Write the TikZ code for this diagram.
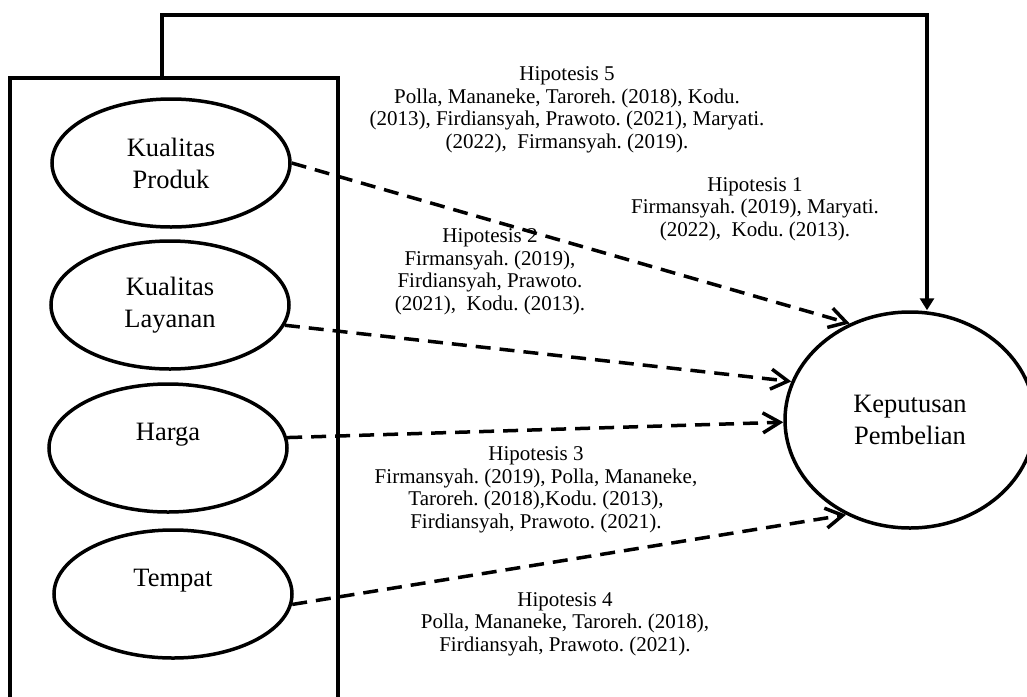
\documentclass[tikz,border=0pt]{standalone}
\usepackage{fontspec}
\setmainfont{Liberation Serif}
\usetikzlibrary{arrows.meta, shapes.geometric, positioning}
\frenchspacing

\begin{document}
\begin{tikzpicture}[x=1pt, y=-1pt, line width=3.5pt,
  var/.style={ellipse, draw, minimum width=238pt, minimum height=128pt,
    inner sep=0pt, align=center, font=\fontsize{26.5}{32}\selectfont},
  hyp/.style={align=center, inner sep=0pt, font=\fontsize{21}{22.5}\selectfont},
  harrow/.style={dash pattern=on 15pt off 9pt, -{Straight Barb[length=17pt,width=20pt]}}]
\useasboundingbox (0,0) rectangle (1027,696);

% variables
\node[var] (kp) at (171,163) {Kualitas\\Produk};
\node[var] (kl) at (170,305) {Kualitas\\Layanan};
\node[var] (hg) at (168,448) {Harga\\\mbox{}};
\node[var] (tp) at (173,594) {Tempat\\\mbox{}};
\node[ellipse, draw, minimum width=250pt, minimum height=216pt, align=center,
  font=\fontsize{26.5}{32}\selectfont] (kep) at (910,420) {Keputusan\\Pembelian};

% frame round the variables
\draw (10,720) |- (338,78) -- (338,720);
\coordinate (fb) at (162,78);
\coordinate (ftop) at (927,15);
\draw[-{Triangle[length=12pt,width=14pt]}] (fb) |- (ftop) -- (ftop |- kep.north);

% hypotheses
\draw[harrow] (kp.east) -- (kep.122);
\draw[harrow] (kl.-10) -- (kep.162);
\draw[harrow] (hg.5) -- (kep.181);
\draw[harrow] (tp.-5) -- (kep.236);

% labels
\node[hyp] (h5) at (567,110) {Hipotesis 5\\Polla, Mananeke, Taroreh. (2018), Kodu.\\(2013), Firdiansyah, Prawoto. (2021), Maryati.\\(2022),\ \ Firmansyah. (2019).};
\node[hyp] (h1) at (755,209) {Hipotesis 1\\Firmansyah. (2019), Maryati.\\(2022),\ \ Kodu. (2013).};
\node[hyp] (h2) at (490,272) {Hipotesis 2\\Firmansyah. (2019),\\Firdiansyah, Prawoto.\\(2021),\ \ Kodu. (2013).};
\node[hyp] (h3) at (536,490) {Hipotesis 3\\Firmansyah. (2019), Polla, Mananeke,\\Taroreh. (2018),Kodu. (2013),\\Firdiansyah, Prawoto. (2021).};
\node[hyp] (h4) at (565,624) {Hipotesis 4\\Polla, Mananeke, Taroreh. (2018),\\Firdiansyah, Prawoto. (2021).};

\end{tikzpicture}
\end{document}
